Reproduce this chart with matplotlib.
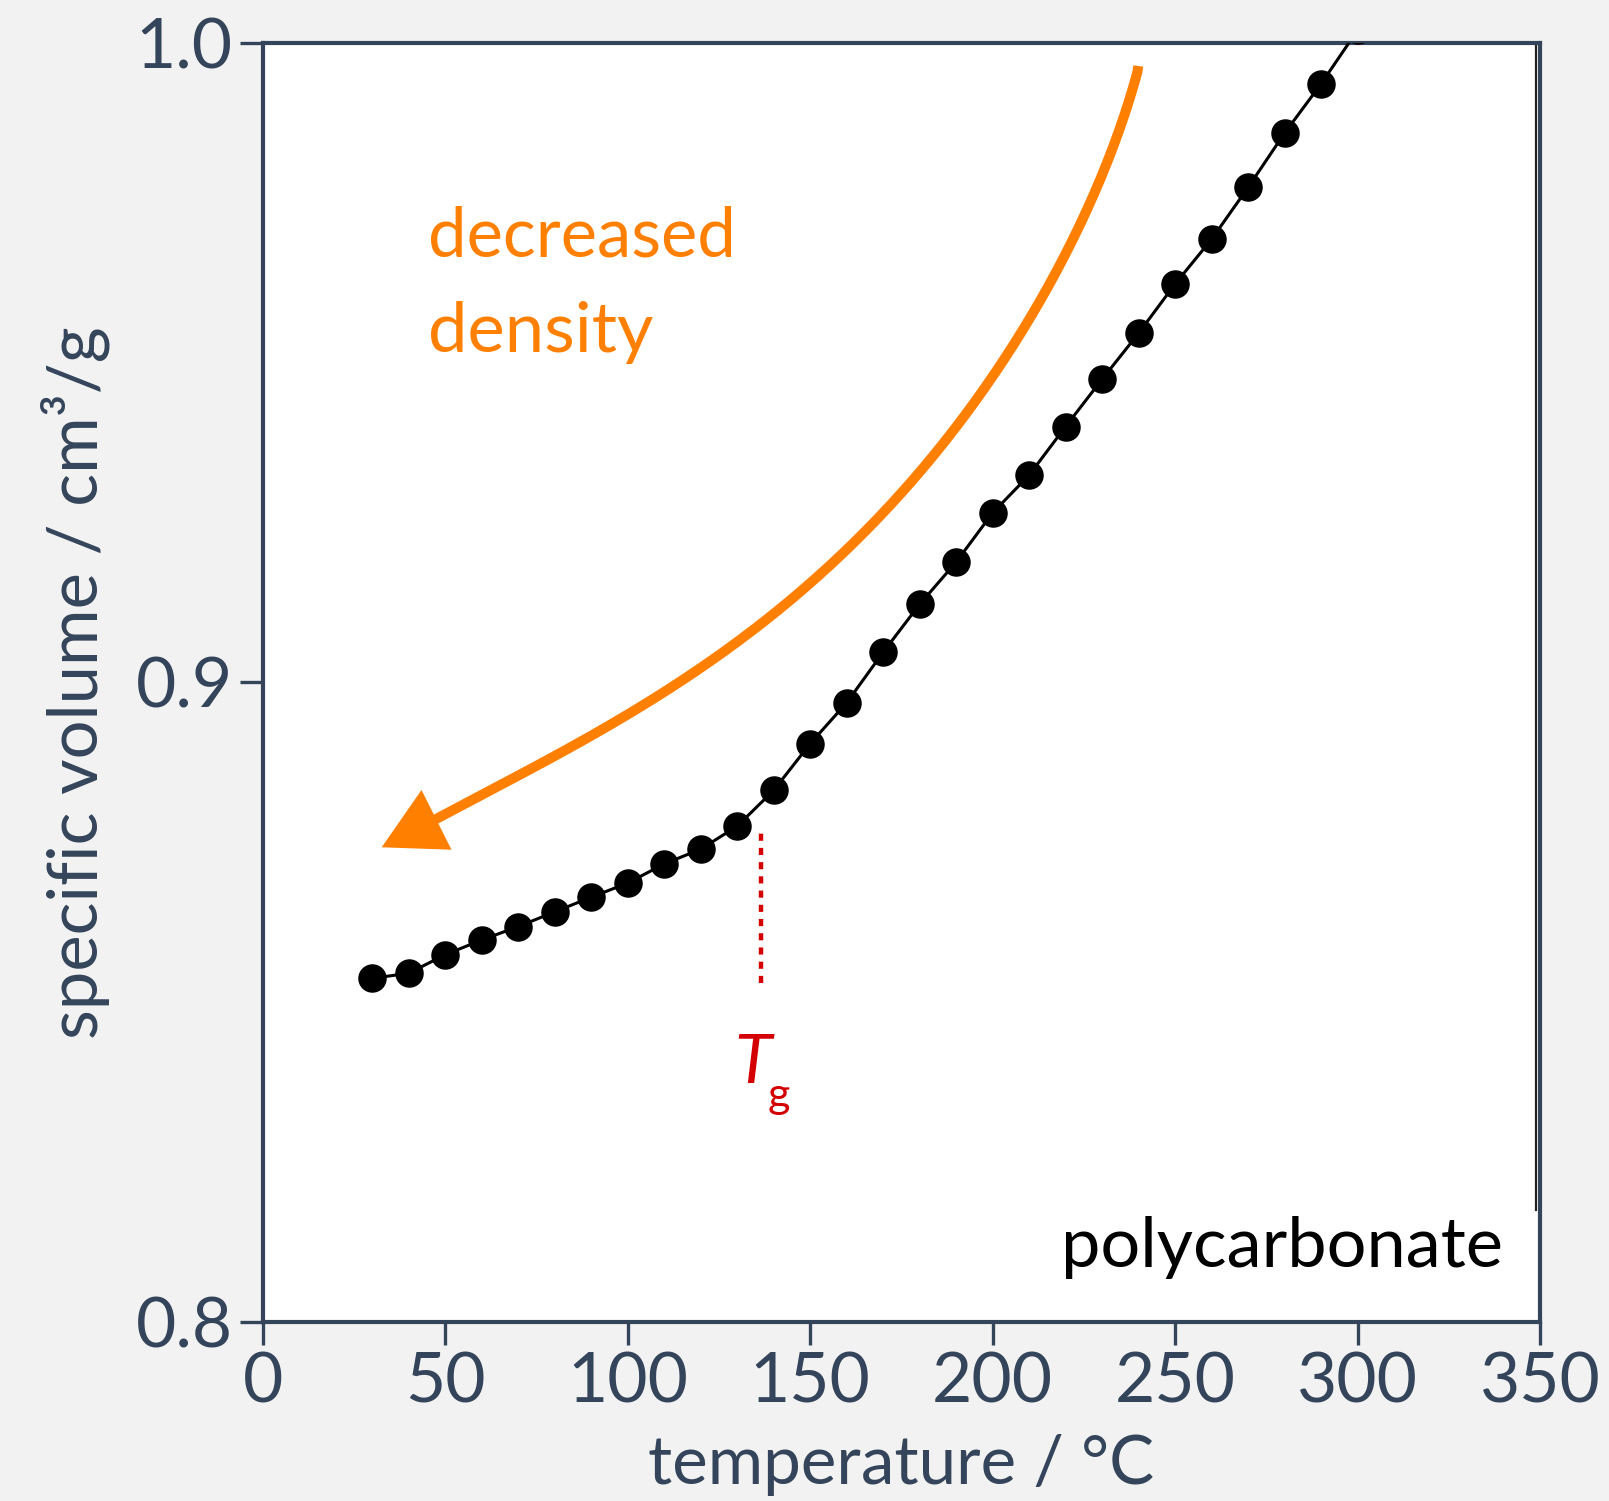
import matplotlib
matplotlib.use("Agg")
import numpy as np
import matplotlib.pyplot as plt
from matplotlib.patches import FancyArrowPatch
from matplotlib.path import Path

# ---------------- data ----------------
temperature = [30, 40, 50, 60, 70, 80, 90, 100, 110, 120, 130, 140, 150, 160,
               170, 180, 190, 200, 210, 220, 230, 240, 250, 260, 270, 280, 290, 300]
specific_volume = [0.8537, 0.8545, 0.8574, 0.8597, 0.8618, 0.8641, 0.8664, 0.8686,
                   0.8716, 0.8739, 0.8775, 0.8831, 0.8904, 0.8968, 0.9047, 0.9122,
                   0.9188, 0.9265, 0.9324, 0.9400, 0.9474, 0.9546, 0.9623, 0.9693,
                   0.9774, 0.9859, 0.9936, 1.0020]
x_ticks = [0, 50, 100, 150, 200, 250, 300, 350]
y_ticks = [0.8, 0.9, 1.0]
y_tick_labels = ["0.8", "0.9", "1.0"]
tg_temperature = 136.5
tg_range = [0.8530, 0.8769]

# arrow annotation guide points traced along the orange arrow (data coords), tail -> tip
arrow_t = [239.93, 236.75, 233.08, 228.53, 223.05, 216.64, 209.35, 185.59, 178.28,
           169.15, 160.03, 149.07, 138.10, 129.88, 108.87, 99.74, 90.59, 81.47,
           72.34, 63.19, 54.06, 46.31, 32.61]
arrow_v = [0.99640, 0.99004, 0.98326, 0.97701, 0.97024, 0.96345, 0.95667, 0.93791,
           0.93165, 0.92539, 0.92018, 0.91444, 0.90975, 0.90689, 0.89829, 0.89516,
           0.89203, 0.88890, 0.88602, 0.88316, 0.88055, 0.87795, 0.87420]

AXIS_COLOR = "#34445a"
ORANGE = "#ff8000"
RED = "#d40000"
FONT = "Lato"

plt.rcParams["font.family"] = [FONT, "DejaVu Sans"]

W, H = 1609, 1501
fig = plt.figure(figsize=(W / 100, H / 100), dpi=100, facecolor="#f2f2f2")
ax = fig.add_axes([262.7 / W, 1 - 1321.7 / H, (1540 - 262.7) / W, (1321.7 - 43) / H])
ax.set_facecolor("white")

ax.set_xlim(0, 350)
ax.set_ylim(0.8, 1.0)

# data curve
ax.plot(temperature, specific_volume, color="black", lw=2.2, marker="o",
        markersize=19.5, markerfacecolor="black", markeredgecolor="black", zorder=3)

# Tg dotted line
ax.plot([tg_temperature, tg_temperature], tg_range, color=RED, lw=3.2,
        linestyle=(0, (1.6, 1.6)), zorder=2)

# curved arrow: smooth the traced guide points in display space
fig.canvas.draw()
disp = ax.transData.transform(np.column_stack([arrow_t, arrow_v]))
seg = np.hypot(*np.diff(disp, axis=0).T)
s = np.concatenate([[0], np.cumsum(seg)])
s /= s[-1]
px = np.polyfit(s, disp[:, 0], 5)
py = np.polyfit(s, disp[:, 1], 5)
ss = np.linspace(0, 1, 200)
curve = np.column_stack([np.polyval(px, ss), np.polyval(py, ss)])
curve[0], curve[-1] = disp[0], disp[-1]
# keep the final segment long so the head is built cleanly
tip = curve[-1]
keep = np.hypot(*(curve - tip).T) > 30
curve = np.vstack([curve[keep], tip])
curve_data = ax.transData.inverted().transform(curve)
codes = [Path.MOVETO] + [Path.LINETO] * (len(curve_data) - 1)
arrow = FancyArrowPatch(path=Path(curve_data, codes), transform=ax.transData,
                        arrowstyle="-|>,head_length=1.65,head_width=0.9",
                        mutation_scale=20, color=ORANGE, lw=7.2, zorder=4,
                        joinstyle="miter", capstyle="butt")
ax.add_patch(arrow)

# spines & ticks
for sp in ax.spines.values():
    sp.set_color(AXIS_COLOR)
    sp.set_linewidth(3)
ax.set_xticks(x_ticks)
ax.set_xticklabels([str(v) for v in x_ticks])
ax.set_yticks(y_ticks)
ax.set_yticklabels(y_tick_labels)
ax.tick_params(axis="both", direction="out", length=16.5, width=2.4,
               color=AXIS_COLOR, labelcolor=AXIS_COLOR, labelsize=50)
ax.tick_params(axis="x", pad=5)
ax.tick_params(axis="y", pad=5)

xl = ax.set_xlabel("temperature / °C", color=AXIS_COLOR, fontsize=48)
yl = ax.set_ylabel("specific volume / cm³/g", color=AXIS_COLOR, fontsize=48)
ax.xaxis.set_label_coords(0.5, -0.0882)
ax.xaxis.label.set_va("top")
ax.yaxis.set_label_coords(-0.1196, 0.5)

# texts
t1 = ax.text(45.3, 0.9666, "decreased", color=ORANGE, fontsize=48, ha="left", va="baseline")
t2 = ax.text(45.3, 0.9517, "density", color=ORANGE, fontsize=48, ha="left", va="baseline")
t3 = ax.text(339.9, 0.8086, "polycarbonate", color="black", fontsize=48, ha="right", va="baseline")
ax.text(134.4, 0.8374, "T", color=RED, fontsize=49, style="italic", ha="center", va="baseline")
ax.text(141.4, 0.8334, "g", color=RED, fontsize=31, ha="center", va="baseline")

# scan-edge line near right spine
ax.plot([0.9972, 0.9972], [0.087, 1.0], transform=ax.transAxes, color="#222222",
        lw=1.6, zorder=1)

# fit text widths to the reference
fig.canvas.draw()
def fit(t, target):
    bb = t.get_window_extent()
    w = max(bb.width, bb.height)
    t.set_fontsize(t.get_fontsize() * target / w)

fit(t1, 308)
fit(t2, 225)
fit(t3, 441)
fit(xl, 506)
fit(yl, 712)

fig.savefig("out.png", dpi=100, facecolor=fig.get_facecolor())
